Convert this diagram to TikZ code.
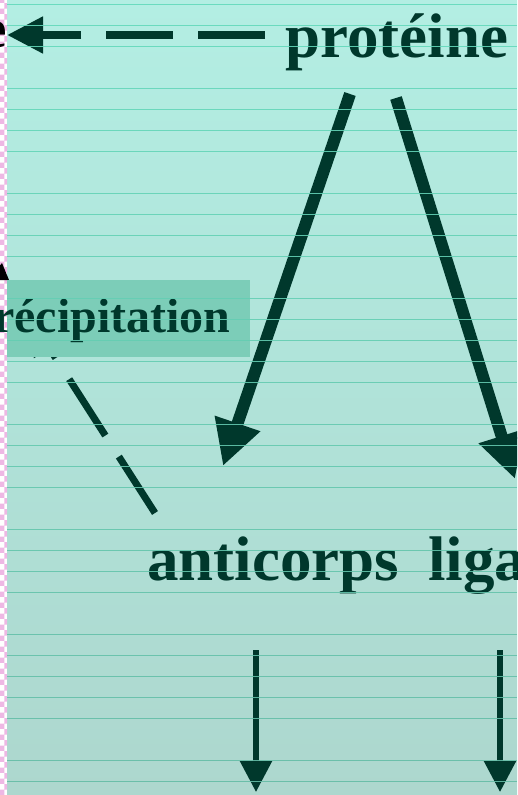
\documentclass[tikz,border=0pt]{standalone}
\usepackage{fontspec}
\setmainfont{Liberation Serif}
\usetikzlibrary{positioning, arrows.meta, calc, patterns}

\definecolor{sapin}{RGB}{0,56,44}
\definecolor{fondhaut}{RGB}{179,238,227}
\definecolor{fondbas}{RGB}{173,215,206}
\definecolor{lignehaut}{RGB}{100,218,188}
\definecolor{lignebas}{RGB}{100,188,166}
\definecolor{boite}{RGB}{124,205,184}
\definecolor{rose}{RGB}{238,184,228}

\tikzset{
  titre/.style={font=\bfseries\fontsize{63}{63}\selectfont, text=sapin, inner sep=0pt, anchor=base west},
  grosse/.style={draw=sapin, line width=12pt, -{Triangle[length=45pt,width=45pt]}},
  tiret/.style={draw=sapin, line width=8pt, dash pattern=on 67pt off 25pt, -{Triangle[length=36pt,width=35pt]}},
  pointille/.style={draw=sapin, line width=7pt, dash pattern=on 67pt off 25pt, -{Triangle[length=36pt,width=35pt]}},
  fine/.style={draw=sapin, line width=5.5pt, -{Triangle[length=31pt,width=31pt]}},
}

\begin{document}
\begin{tikzpicture}[x=1pt,y=-1pt]
\useasboundingbox (0,0) rectangle (517,795);
\clip (0,0) rectangle (517,795);
% fond
\shade[top color=fondhaut, bottom color=fondbas] (7,0) rectangle (517,795);
\fill[white] (0,0) rectangle (7,795);
\fill[pattern=checkerboard, pattern color=rose] (0,0) rectangle (7,795);

% textes
\node[titre] (prot) at (285,57) {protéine};
\node[titre] (anti) at (147,580) {anticorps};
\node[titre] (lig) at (428,580) {liga};
\node[font=\bfseries\fontsize{55}{55}\selectfont, inner sep=0pt, anchor=base east] (cible) at (7,47) {e};
\fill (-12,280) -- (2,263) -- (9,280) -- cycle;

% fleches
\coordinate (gauche) at (7,35);
\draw[tiret] ($(prot.base west)+(-20,-22)$) -- (gauche);
\draw[grosse] ($(prot.base west)+(65,37)$) -- ($(anti.base west)+(76,-114)$);
\draw[grosse] ($(prot.base west)+(111,41)$) -- ($(lig.base west)+(87,-101)$);
\draw[pointille] ($(anti.base west)+(8,-67)$) -- (30,318);
\coordinate (basg) at ($(anti.base west)+(109,212)$);
\coordinate (basd) at ($(lig.base west)+(72,212)$);
\draw[fine] ($(anti.base west)+(109,70)$) -- (basg);
\draw[fine] ($(lig.base west)+(72,70)$) -- (basd);

% boite
\node[fill=boite, minimum width=243pt, minimum height=77pt, inner sep=0pt] (precip) at (128.5,318.5) {};
\node[titre, font=\bfseries\fontsize{48}{48}\selectfont] (precipt) at (-7,332) {récipitation};

% lignes
\foreach \k in {0,...,37}{
  \ifnum\k=3 \else\ifnum\k=8 \else\ifnum\k=13 \else\ifnum\k=19 \else\ifnum\k=24 \else\ifnum\k=29 \else\ifnum\k=35 \else
  \pgfmathtruncatemacro{\p}{100-\k*100/37}
  \draw[draw=lignehaut!\p!lignebas, line width=1pt, opacity=0.9] (7,4+21*\k) -- (517,4+21*\k);
  \fi\fi\fi\fi\fi\fi\fi
}
\end{tikzpicture}
\end{document}
